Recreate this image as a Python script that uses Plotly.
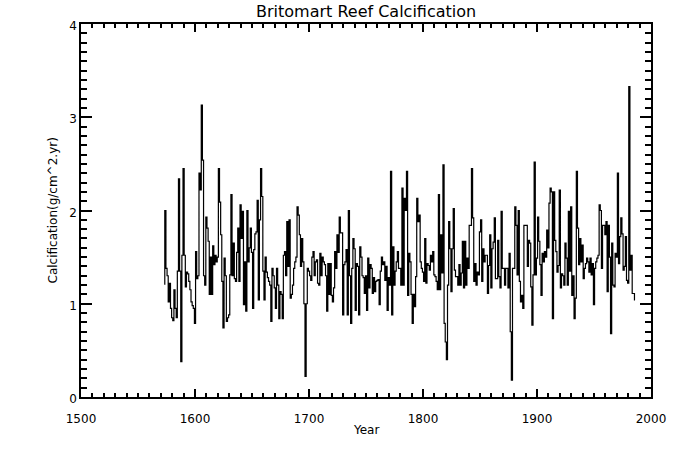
import plotly.graph_objects as go

start_year = 1573
calcification = [
    1.21, 2.0, 1.38, 1.3, 1.02, 1.22, 0.95,
    0.85, 0.82, 1.15, 0.95, 0.85, 1.35, 2.34, 1.35, 0.38, 1.52,
    2.45, 1.52, 1.18, 1.34, 1.32, 1.24, 1.15, 1.02, 0.98, 0.95,
    0.79, 1.56, 1.27, 1.30, 2.40, 2.22, 3.13, 2.54, 1.30, 1.2,
    1.93, 1.81, 1.67, 1.1, 1.5, 1.1, 1.62, 1.42, 1.52, 1.45,
    1.5, 2.45, 2.09, 1.74, 1.24, 0.74, 1.49, 1.3, 0.81, 0.85,
    0.88, 1.31, 2.17, 1.3, 1.65, 1.27, 1.24, 1.55, 1.81, 1.24,
    2.06, 1.7, 1.99, 0.99, 1.45, 0.92, 2.0, 1.45, 1.6, 1.81,
    1.55, 0.95, 1.58, 1.75, 1.77, 2.11, 1.04, 1.9, 2.45, 2.15,
    1.35, 1.04, 1.5, 1.34, 1.28, 1.24, 1.2, 0.81, 1.38, 1.3,
    1.17, 0.95, 1.38, 1.2, 0.84, 1.13, 1.1, 0.84, 1.52, 1.56,
    1.3, 1.88, 1.4, 1.9, 1.06, 1.1, 1.2, 1.38, 1.45, 1.5,
    2.04, 1.95, 1.74, 1.4, 1.7, 1.45, 1.0, 0.22, 1.0, 1.38,
    1.35, 1.3, 1.25, 1.5, 1.56, 1.3, 1.45, 1.47, 1.22, 1.2,
    1.54, 1.3, 1.5, 1.45, 1.42, 1.3, 0.92, 1.43, 1.1, 1.43,
    1.09, 1.02, 1.17, 1.56, 1.38, 1.74, 1.55, 1.93, 1.76, 1.76,
    0.88, 1.42, 1.45, 1.58, 0.88, 2.0, 1.3, 0.79, 1.38, 1.70,
    1.59, 0.93, 1.43, 1.4, 0.88, 1.61, 1.5, 1.3, 1.28, 1.11,
    1.3, 0.93, 1.49, 1.17, 1.42, 1.38, 1.11, 1.28, 1.13, 1.24,
    1.25, 1.26, 0.99, 1.35, 1.5, 1.42, 1.45, 1.25, 1.4, 0.93,
    1.28, 1.2, 2.42, 0.88, 1.61, 1.2, 1.35, 1.45, 1.56, 1.38,
    1.38, 1.2, 2.24, 1.2, 2.13, 2.0, 2.42, 1.09, 1.54, 1.45,
    1.1, 0.79, 1.1, 0.97, 1.29, 2.13, 1.88, 1.95, 1.45, 1.38,
    1.34, 1.24, 1.70, 1.22, 1.43, 1.41, 1.36, 1.52, 1.45, 1.56,
    1.31, 1.29, 1.24, 1.15, 2.17, 1.15, 1.74, 1.33, 2.49, 0.79,
    0.59, 0.40, 1.2, 1.88, 1.59, 1.13, 1.59, 2.02, 1.36, 1.29,
    1.29, 1.2, 1.42, 1.2, 1.33, 1.67, 1.17, 1.67, 1.2, 1.49,
    1.38, 1.84, 1.84, 2.45, 1.92, 1.24, 1.43, 1.2, 1.34, 1.31,
    1.77, 1.9, 1.24, 1.59, 1.45, 1.52, 1.52, 1.11, 1.41, 1.74,
    1.17, 1.59, 1.66, 1.92, 1.27, 1.27, 1.68, 1.29, 1.17, 1.99,
    1.38, 1.38, 1.2, 1.38, 1.38, 1.17, 1.54, 0.70, 0.18, 1.38,
    1.38, 2.04, 1.84, 1.31, 2.0, 1.24, 1.02, 1.09, 0.95, 1.84,
    1.84, 1.84, 1.4, 1.68, 1.65, 1.18, 0.77, 1.31, 2.52, 1.31,
    1.49, 1.93, 1.67, 1.42, 1.09, 1.54, 1.45, 1.56, 1.5, 1.79,
    1.6, 2.08, 2.24, 2.2, 0.84, 2.2, 1.68, 1.56, 1.34, 1.41,
    2.22, 1.17, 1.32, 1.3, 1.2, 1.65, 1.49, 1.2, 1.99, 1.35,
    2.04, 1.09, 1.3, 0.84, 1.06, 2.42, 1.81, 1.42, 1.70, 1.45,
    1.63, 1.27, 1.38, 1.43, 1.49, 1.45, 1.34, 1.49, 1.31, 1.43,
    0.99, 1.38, 1.45, 1.49, 1.52, 2.06, 2.0, 1.38, 1.84, 1.84,
    1.74, 1.88, 1.13, 1.84, 1.5, 0.68, 1.65, 1.2, 1.18, 1.54,
    1.5, 2.4, 1.43, 1.72, 1.92, 1.75, 1.36, 1.4, 1.72, 1.25,
    1.22, 3.33, 1.36, 1.52, 1.11, 1.11, 1.04,
]
years = list(range(start_year, start_year + len(calcification)))

title_text = "Britomart Reef Calcification"
x_title = "Year"
y_title = "Calcification(g/cm^2.yr)"
x_ticks = [1500, 1600, 1700, 1800, 1900, 2000]
y_ticks = [0, 1, 2, 3, 4]

FONT = "DejaVu Sans"

fig = go.Figure()
fig.add_trace(go.Scatter(
    x=years, y=calcification, mode="lines",
    line=dict(color="black", width=1.2, shape="hvh"),
    showlegend=False, hoverinfo="skip",
))

axis_common = dict(
    showgrid=False, zeroline=False, showline=True, linecolor="black",
    linewidth=1.5, mirror="ticks", ticks="inside", tickcolor="black",
    tickwidth=1.5, automargin=False,
    tickfont=dict(family=FONT, size=12, color="black"),
)

fig.update_xaxes(
    range=[1500, 2000], tickvals=x_ticks, ticktext=[str(v) for v in x_ticks],
    ticklen=8, ticklabelstandoff=10,
    minor=dict(dtick=10, ticklen=4, ticks="inside", tickcolor="black", tickwidth=1.5),
    **axis_common,
)
fig.update_yaxes(
    range=[0, 4], tickvals=y_ticks, ticktext=[str(v) for v in y_ticks],
    ticklen=11, ticklabelshift=2,
    minor=dict(dtick=0.1, ticklen=6, ticks="inside", tickcolor="black", tickwidth=1.5),
    **axis_common,
)

fig.update_layout(
    width=675, height=450,
    margin=dict(l=81, r=24, t=24, b=53),
    paper_bgcolor="white", plot_bgcolor="white",
    font=dict(family=FONT, color="black"),
    hovermode=False,
    annotations=[
        dict(text=title_text, xref="paper", yref="paper", x=0.5, y=1.0,
             yshift=13, showarrow=False, xanchor="center", yanchor="middle",
             font=dict(family=FONT, size=16, color="black")),
        dict(text=x_title, xref="paper", yref="paper", x=0.5, y=0,
             yshift=-33, showarrow=False, xanchor="center", yanchor="middle",
             font=dict(family=FONT, size=12, color="black")),
        dict(text=y_title, xref="paper", yref="paper", x=0, y=0.5,
             xshift=-29, showarrow=False, xanchor="center", yanchor="middle",
             textangle=-90, font=dict(family=FONT, size=12, color="black")),
    ],
)

# remove the default 8 px page margin so the figure fills the window exactly
fig.write_html("out.html", config={"displayModeBar": False},
               post_script="document.body.style.margin='0';")
